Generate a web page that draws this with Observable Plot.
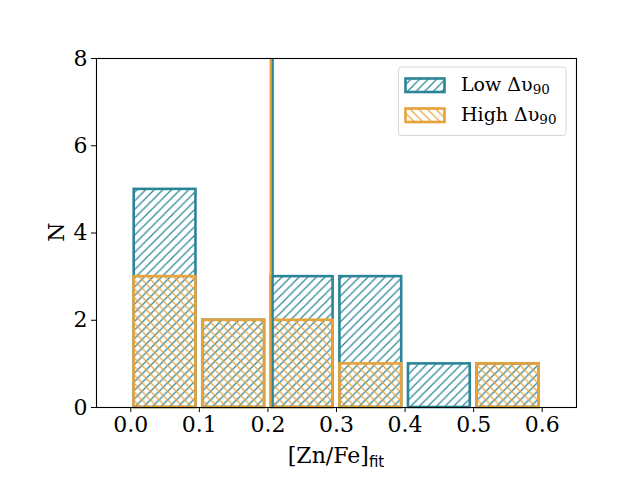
<!DOCTYPE html>
<html><head><meta charset="utf-8">
<script src="https://cdn.jsdelivr.net/npm/d3@7"></script>
<script src="https://cdn.jsdelivr.net/npm/@observablehq/plot@0.6"></script>
<style>body{margin:0;background:#fff}</style>
</head><body><div id="chart"></div>
<script>
const binStarts = [0.0, 0.1, 0.2, 0.3, 0.4, 0.5];
const binWidth = 0.1;
const lowCounts = [5, 2, 3, 3, 1, 1];
const highCounts = [3, 2, 2, 1, 0, 1];
const medianLow = [0.207];
const medianHigh = [0.204];
const xTicks = [0.0, 0.1, 0.2, 0.3, 0.4, 0.5, 0.6];
const yTicks = [0, 2, 4, 6, 8];
const teal = "#2a8597";
const orange = "#e8a23c";

const low = binStarts.map((s, i) => ({x1: s, x2: s + binWidth, y: lowCounts[i]})).filter(d => d.y > 0);
const high = binStarts.map((s, i) => ({x1: s, x2: s + binWidth, y: highCounts[i]})).filter(d => d.y > 0);

const serif = "DejaVu Serif";
const plot = Plot.plot({
  width: 640, height: 480,
  marginLeft: 96, marginRight: 64, marginTop: 58, marginBottom: 73,
  style: {fontFamily: serif, fontSize: "22px", color: "black", background: "white"},
  x: {domain: [-0.05, 0.65], ticks: xTicks, tickFormat: d3.format(".1f"), label: null, tickSize: 5, tickPadding: 4},
  y: {domain: [0, 8], ticks: yTicks, label: null, tickSize: 5, tickPadding: 4},
  marks: [
    Plot.rectY(low, {x1: "x1", x2: "x2", y: "y", fill: "url(#hatchLow)", stroke: teal, strokeWidth: 2.6, insetLeft: 3.4, insetRight: 3.4}),
    Plot.rectY(high, {x1: "x1", x2: "x2", y: "y", fill: "url(#hatchHigh)", stroke: orange, strokeWidth: 2.6, insetLeft: 3.4, insetRight: 3.4}),
    Plot.ruleX(medianHigh, {stroke: orange, strokeWidth: 2.2}),
    Plot.ruleX(medianLow, {stroke: teal, strokeWidth: 2.2}),
    Plot.frame({stroke: "black", strokeWidth: 1.1})
  ]
});

const svg = d3.select(plot);
const s = 8.6;
const defs = svg.insert("defs", ":first-child");
const pl = defs.append("pattern").attr("id", "hatchLow").attr("patternUnits", "userSpaceOnUse")
  .attr("width", s).attr("height", s);
pl.append("path").attr("d", `M0,${s}L${s},0M${-s/2},${s/2}L${s/2},${-s/2}M${s/2},${s*1.5}L${s*1.5},${s/2}`)
  .attr("stroke", teal).attr("stroke-width", 1.2).attr("fill", "none");
const ph = defs.append("pattern").attr("id", "hatchHigh").attr("patternUnits", "userSpaceOnUse")
  .attr("width", s).attr("height", s);
ph.append("path").attr("d", `M0,0L${s},${s}M${-s/2},${s/2}L${s/2},${s*1.5}M${s/2},${-s/2}L${s*1.5},${s/2}`)
  .attr("stroke", orange).attr("stroke-width", 1.2).attr("fill", "none");

// axis labels
const xl = svg.append("text").attr("x", 336).attr("y", 463).attr("text-anchor", "middle")
  .attr("font-family", serif).attr("font-size", 22).attr("fill", "black");
xl.append("tspan").text("[Zn/Fe]");
xl.append("tspan").attr("font-family", "DejaVu Sans").attr("font-size", 15).attr("dy", 4).text("fit");
svg.append("text").attr("transform", "translate(64,232) rotate(-90)").attr("text-anchor", "middle")
  .attr("font-family", serif).attr("font-size", 22).attr("fill", "black").text("N");

// legend
const lg = svg.append("g");
lg.append("rect").attr("x", 398.5).attr("y", 67).attr("width", 167.5).attr("height", 68.5).attr("rx", 3)
  .attr("fill", "white").attr("fill-opacity", 0.8).attr("stroke", "#d6d6d6").attr("stroke-width", 1);
const items = [["Low", "url(#hatchLow)", teal, 78.5], ["High", "url(#hatchHigh)", orange, 108.5]];
items.forEach(([name, fill, col, y]) => {
  lg.append("rect").attr("x", 405.5).attr("y", y).attr("width", 39).attr("height", 13.5)
    .attr("fill", fill).attr("stroke", col).attr("stroke-width", 2.6);
  const t = lg.append("text").attr("x", 461).attr("y", y + 12.5).attr("font-family", serif)
    .attr("text-anchor", "start").attr("font-size", 19).attr("fill", "black");
  t.append("tspan").text(name + " Δυ");
  t.append("tspan").attr("font-size", 13.5).attr("dy", 3).text("90");
});

document.getElementById("chart").appendChild(plot);
</script>
</body></html>
